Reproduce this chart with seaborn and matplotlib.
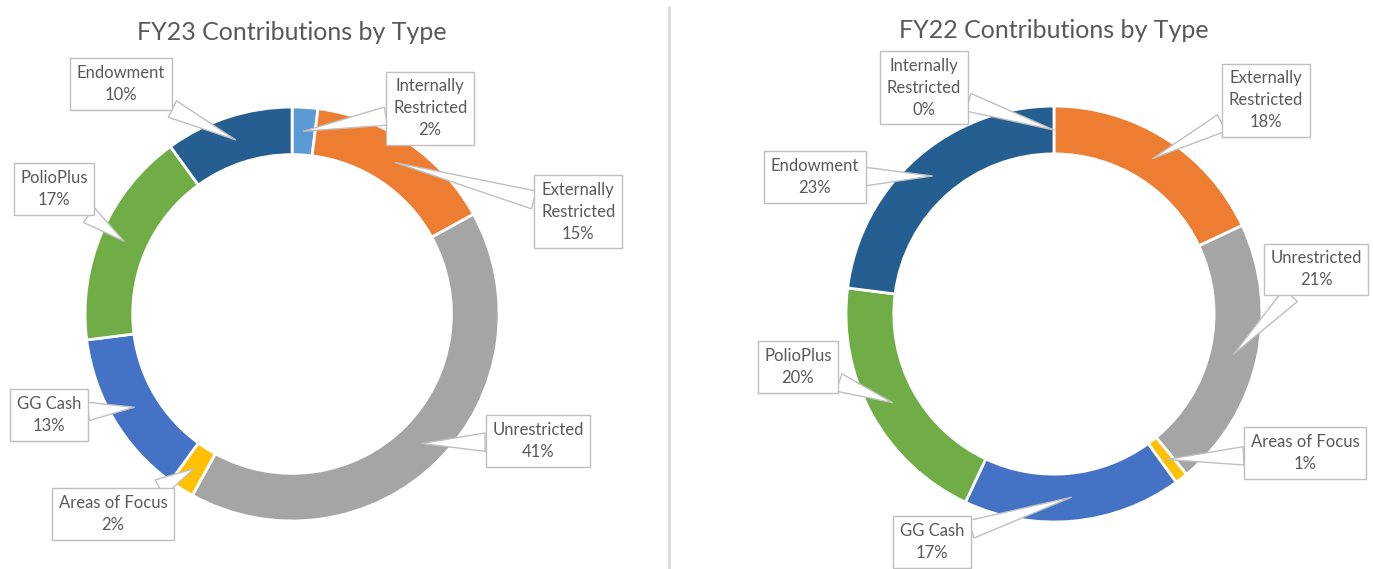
import numpy as np
import matplotlib
matplotlib.use("Agg")
import matplotlib.pyplot as plt
import seaborn as sns
from matplotlib.lines import Line2D

# data, clockwise from 12 o'clock
categories = ["Internally\nRestricted", "Externally\nRestricted", "Unrestricted",
              "Areas of Focus", "GG Cash", "PolioPlus", "Endowment"]
fy23_values = [2, 15, 41, 2, 13, 17, 10]
fy22_values = [0, 18, 21, 1, 17, 20, 23]

COLORS = ["#5B9BD5", "#ED7D31", "#A5A5A5", "#FFC000", "#4472C4", "#70AD47", "#255E91"]

# callout box centres, in units of the donut radius
fy23_label_pos = [(0.667, 0.995), (1.382, 0.493), (1.188, -0.614), (-0.865, -0.966),
                  (-1.174, -0.488), (-1.150, 0.604), (-0.826, 1.111)]
fy22_label_pos = [(-0.625, 1.087), (1.019, 1.029), (1.260, 0.216), (1.207, -0.668),
                  (-0.587, -1.096), (-1.231, -0.255), (-1.149, 0.659)]

sns.set_theme(style="white")
plt.rcParams["font.family"] = ["Lato", "DejaVu Sans"]

TEXT = "#595959"
EDGE = "#BFBFBF"
RING = 0.23


def donut(ax, values, label_pos, title, xlim, ylim):
    wedges, _ = ax.pie(values, colors=COLORS, startangle=90, counterclock=False,
                       radius=1, wedgeprops=dict(width=RING, edgecolor="white", linewidth=2))
    total = sum(values)
    r_mid = 1 - RING / 2
    for w, v, name, pos in zip(wedges, values, categories, label_pos):
        ang = np.deg2rad((w.theta1 + w.theta2) / 2)
        tip = (r_mid * np.cos(ang), r_mid * np.sin(ang))
        ax.annotate(f"{name}\n{v / total:.0%}", xy=tip, xytext=pos,
                    ha="center", va="center", fontsize=12, color=TEXT, linespacing=1.45,
                    bbox=dict(boxstyle="square,pad=0.4", fc="white", ec=EDGE, lw=1),
                    arrowprops=dict(arrowstyle="wedge,tail_width=1.1,shrink_factor=0.5",
                                    fc="white", ec=EDGE, lw=1, shrinkA=0, shrinkB=0,
                                    connectionstyle="arc3"))
    ax.text(0, 1.362, title, ha="center", va="center", fontsize=18, color=TEXT)
    ax.set_aspect("auto")
    ax.set_xlim(*xlim)
    ax.set_ylim(*ylim)
    ax.axis("off")


fig = plt.figure(figsize=(13.73, 5.69), dpi=100)
ax1 = fig.add_axes([0, 0, 668 / 1373, 1])
ax2 = fig.add_axes([669 / 1373, 0, 704 / 1373, 1])

donut(ax1, fy23_values, fy23_label_pos, "FY23 Contributions by Type",
      (-1.411, 1.816), (-1.232, 1.517))
donut(ax2, fy22_values, fy22_label_pos, "FY22 Contributions by Type",
      (-1.851, 1.534), (-1.226, 1.510))

# divider between the two charts
fig.add_artist(Line2D([669 / 1373, 669 / 1373], [0, 1 - 7 / 569],
                      transform=fig.transFigure, color="#D9D9D9", lw=2))

fig.savefig("out.png", dpi=100, facecolor="white")
